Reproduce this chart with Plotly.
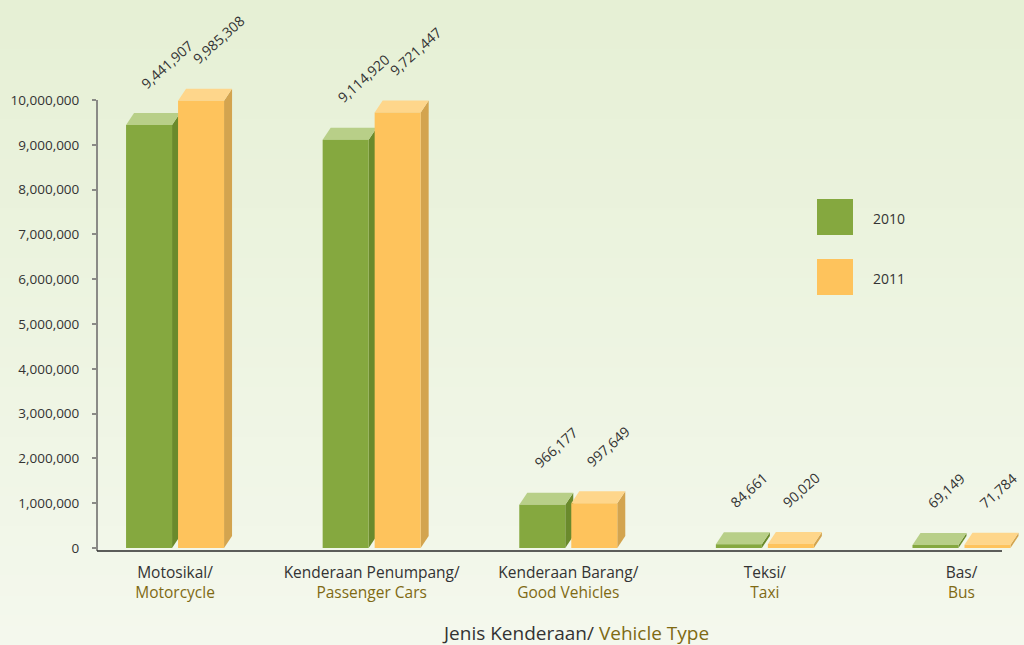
import plotly.graph_objects as go

# ---- data -------------------------------------------------------------
categories_ms = ["Motosikal/", "Kenderaan Penumpang/", "Kenderaan Barang/", "Teksi/", "Bas/"]
categories_en = ["Motorcycle", "Passenger Cars", "Good Vehicles", "Taxi", "Bus"]
years = ["2010", "2011"]
vehicles_2010 = [9441907, 9114920, 966177, 84661, 69149]
vehicles_2011 = [9985308, 9721447, 997649, 90020, 71784]
y_tick_values = [0, 1000000, 2000000, 3000000, 4000000, 5000000,
                 6000000, 7000000, 8000000, 9000000, 10000000]

# ---- layout geometry --------------------------------------------------
W, H = 1024, 645
M_L, M_R, M_T, M_B = 97, 0, 40, 94
PLOT_W = W - M_L - M_R
PLOT_H = H - M_T - M_B
X_RANGE = [-0.397, 4.318]
Y_RANGE = [-67000, 11339000]
X_PX = PLOT_W / (X_RANGE[1] - X_RANGE[0])   # pixels per category step
Y_PX = PLOT_H / (Y_RANGE[1] - Y_RANGE[0])   # pixels per vehicle

BAR_W = 46 / X_PX          # front face width
HALF_GAP = 3 / X_PX        # space between the two fronts
DEPTH_X = 8 / X_PX         # 3-D extrusion, horizontal
DEPTH_Y = 12 / Y_PX        # 3-D extrusion, vertical

FONT = "Open Sans, Noto Sans, sans-serif"
TEXT = "#333333"
GOLD = "#7f6a13"

series = [
    dict(name=years[0], values=vehicles_2010, offset=-HALF_GAP - BAR_W,
         front="#85a83f", top="#b8cf88", side="#6a8a2c"),
    dict(name=years[1], values=vehicles_2011, offset=HALF_GAP,
         front="#fec35c", top="#fed68b", side="#d3a44f"),
]


def px2x(px):
    return (px - M_L) / PLOT_W


def py2y(py):
    return (H - M_B - py) / PLOT_H


positions = list(range(len(categories_ms)))
fig = go.Figure()
shapes = []
annotations = []

# background: soft vertical wash from pale green to near white
top_rgb = (230, 240, 213)
bot_rgb = (244, 248, 237)
bands = 65
for k in range(bands):
    t = k / (bands - 1)
    c = tuple(round(a + (b - a) * t) for a, b in zip(top_rgb, bot_rgb))
    y_top = H * k / bands
    y_bot = H * (k + 1) / bands + 1
    shapes.append(dict(type="rect", xref="paper", yref="paper", layer="below",
                       x0=px2x(-2), x1=px2x(W + 2), y0=py2y(y_bot), y1=py2y(y_top),
                       line=dict(width=0), fillcolor="rgb(%d,%d,%d)" % c))

for s in series:
    fig.add_trace(go.Bar(
        x=positions, y=s["values"], name=s["name"],
        width=BAR_W, offset=s["offset"],
        marker=dict(color=s["front"], line=dict(width=0)),
        showlegend=False, hoverinfo="x+y",
    ))

# extruded side and top faces for each bar
for i in positions:
    for s in series:
        v = s["values"][i]
        xl = i + s["offset"]
        xr = xl + BAR_W
        side = (f"M {xr} {v} L {xr + DEPTH_X} {v + DEPTH_Y} "
                f"L {xr + DEPTH_X} {DEPTH_Y} L {xr} 0 Z")
        top = (f"M {xl} {v} L {xr} {v} L {xr + DEPTH_X} {v + DEPTH_Y} "
               f"L {xl + DEPTH_X} {v + DEPTH_Y} Z")
        shapes.append(dict(type="path", xref="x", yref="y", layer="below",
                           path=side, fillcolor=s["side"], line=dict(width=0)))
        shapes.append(dict(type="path", xref="x", yref="y", layer="below",
                           path=top, fillcolor=s["top"], line=dict(width=0)))
        annotations.append(dict(
            x=xl, y=v, xref="x", yref="y", text=f"{v:,}", showarrow=False,
            textangle=-42, xanchor="left", yanchor="bottom",
            xshift=8, yshift=30,
            font=dict(family=FONT, size=14, color=TEXT),
        ))

# axis lines
shapes.append(dict(type="line", xref="paper", yref="paper",
                   x0=0, x1=0, y0=0,
                   y1=(y_tick_values[-1] - Y_RANGE[0]) / (Y_RANGE[1] - Y_RANGE[0]),
                   line=dict(color="#8a8a86", width=2)))
shapes.append(dict(type="line", xref="paper", yref="paper",
                   x0=0, x1=px2x(1002), y0=0, y1=0,
                   line=dict(color="#2a2a2a", width=1.5)))

# legend swatches
for k, s in enumerate(series):
    top_px = 199 + 60 * k
    shapes.append(dict(type="rect", xref="paper", yref="paper",
                       x0=px2x(817), x1=px2x(853), y0=py2y(top_px + 36), y1=py2y(top_px),
                       fillcolor=s["front"], line=dict(width=0)))
    annotations.append(dict(x=px2x(871), y=py2y(top_px + 19), xref="paper", yref="paper",
                            text=s["name"], showarrow=False, xanchor="left", yanchor="middle",
                            font=dict(family=FONT, size=14, color=TEXT)))

# x-axis title
annotations.append(dict(
    x=px2x(575), y=py2y(633), xref="paper", yref="paper", showarrow=False,
    xanchor="center", yanchor="middle",
    text=f"Jenis Kenderaan/ <span style='color:{GOLD}'>Vehicle Type</span>",
    font=dict(family=FONT, size=19, color=TEXT),
))

tick_text = [f"{ms}<br><span style='color:{GOLD}'>{en}</span>"
             for ms, en in zip(categories_ms, categories_en)]

fig.update_layout(
    width=W, height=H,
    margin=dict(l=M_L, r=M_R, t=M_T, b=M_B, pad=0),
    paper_bgcolor="rgb(237,244,226)",
    plot_bgcolor="rgba(0,0,0,0)",
    barmode="overlay",
    showlegend=False,
    shapes=shapes,
    annotations=annotations,
    xaxis=dict(range=X_RANGE, tickvals=positions, ticktext=tick_text,
               showgrid=False, zeroline=False, showline=False, ticks="",
               ticklabelstandoff=10,
               tickfont=dict(family=FONT, size=15.5, color=TEXT)),
    yaxis=dict(range=Y_RANGE, tickvals=y_tick_values, tickformat=",d",
               showgrid=False, zeroline=False, showline=False,
               ticks="outside", ticklen=4, tickwidth=1.5, tickcolor="#8a8a86",
               ticklabelstandoff=10,
               tickfont=dict(family=FONT, size=13.5, color=TEXT)),
)

fig.write_html("out.html")
